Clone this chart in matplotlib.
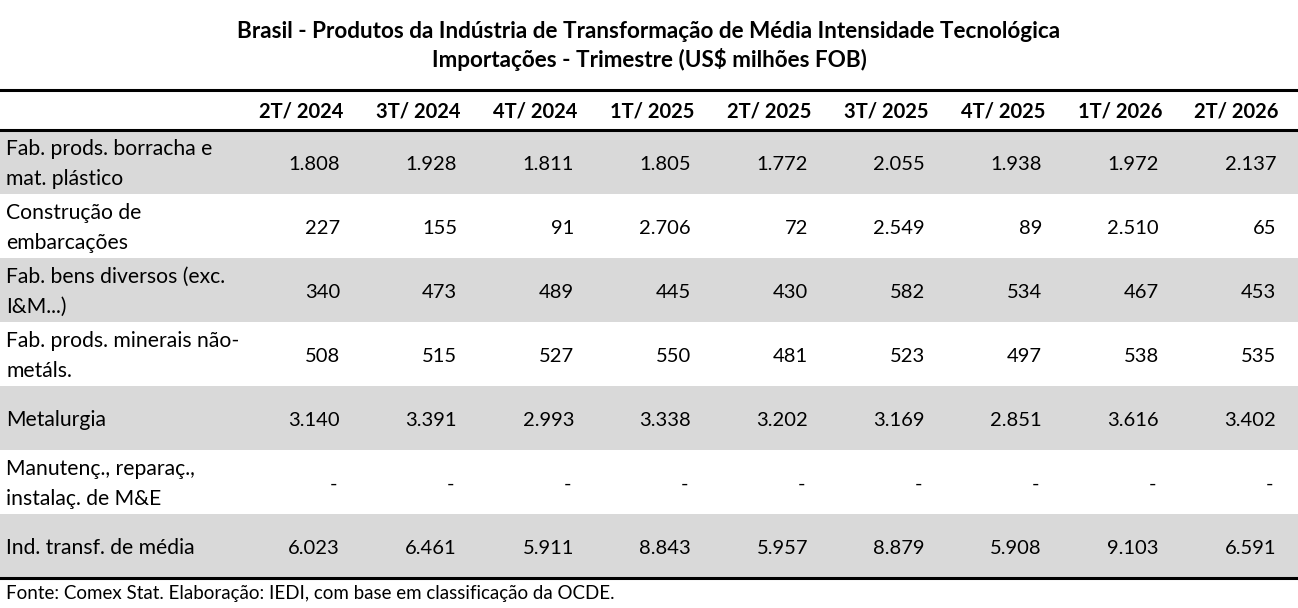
import matplotlib.pyplot as plt
from matplotlib.patches import Rectangle

plt.rcParams['font.family'] = ['Lato', 'DejaVu Sans']

# Table contents
title = ('Brasil - Produtos da Indústria de Transformação de Média Intensidade Tecnológica\n'
         'Importações - Trimestre (US$ milhões FOB)')
periods = ['2T/ 2024', '3T/ 2024', '4T/ 2024', '1T/ 2025', '2T/ 2025',
           '3T/ 2025', '4T/ 2025', '1T/ 2026', '2T/ 2026']
sectors = ['Fab. prods. borracha e\nmat. plástico',
           'Construção de\nembarcações',
           'Fab. bens diversos (exc.\nI&M...)',
           'Fab. prods. minerais não-\nmetáls.',
           'Metalurgia',
           'Manutenç., reparaç.,\ninstalaç. de M&E',
           'Ind. transf. de média']
rubber = ['1.808', '1.928', '1.811', '1.805', '1.772', '2.055', '1.938', '1.972', '2.137']
ships = ['227', '155', '91', '2.706', '72', '2.549', '89', '2.510', '65']
misc = ['340', '473', '489', '445', '430', '582', '534', '467', '453']
minerals = ['508', '515', '527', '550', '481', '523', '497', '538', '535']
metal = ['3.140', '3.391', '2.993', '3.338', '3.202', '3.169', '2.851', '3.616', '3.402']
maint = ['-', '-', '-', '-', '-', '-', '-', '-', '-']
total = ['6.023', '6.461', '5.911', '8.843', '5.957', '8.879', '5.908', '9.103', '6.591']
rows = [rubber, ships, misc, minerals, metal, maint, total]
source = 'Fonte: Comex Stat. Elaboração: IEDI, com base em classificação da OCDE.'

W, H = 1298, 608
fig = plt.figure(figsize=(W / 100, H / 100), dpi=100)
ax = fig.add_axes([0, 0, 1, 1])
ax.set_xlim(0, W)
ax.set_ylim(H, 0)
ax.axis('off')

fs = 14.5
top_line, head_line = 90, 130
row_h = 64
col_x0, col_dx = 342, 117

ax.text(W / 2, 46, title, ha='center', va='center', fontsize=16.2,
        fontweight='bold', linespacing=1.35)

# shaded rows
for i in range(len(rows)):
    if i % 2 == 0:
        ax.add_patch(Rectangle((0, head_line + i * row_h), W, row_h,
                               facecolor='#d9d9d9', edgecolor='none', zorder=0))

ax.plot([0, W], [top_line, top_line], color='black', lw=2.2)
ax.plot([0, W], [head_line, head_line], color='black', lw=2.2)
bottom = head_line + len(rows) * row_h
ax.plot([0, W], [bottom, bottom], color='black', lw=2.2)

for j, p in enumerate(periods):
    ax.text(col_x0 + j * col_dx + 1, 111, p, ha='right', va='center',
            fontsize=fs, fontweight='bold')

for i, (name, vals) in enumerate(zip(sectors, rows)):
    yc = head_line + i * row_h + row_h / 2 + 2
    ax.text(6, yc, name, ha='left', va='center', fontsize=15.2, linespacing=1.6)
    for j, v in enumerate(vals):
        x = col_x0 + j * col_dx - 2
        if v == '-':
            x -= 3
        ax.text(x, yc, v, ha='right', va='center', fontsize=fs)

ax.text(6, 593, source, ha='left', va='center', fontsize=13.5)

fig.savefig('out.png', dpi=100)
